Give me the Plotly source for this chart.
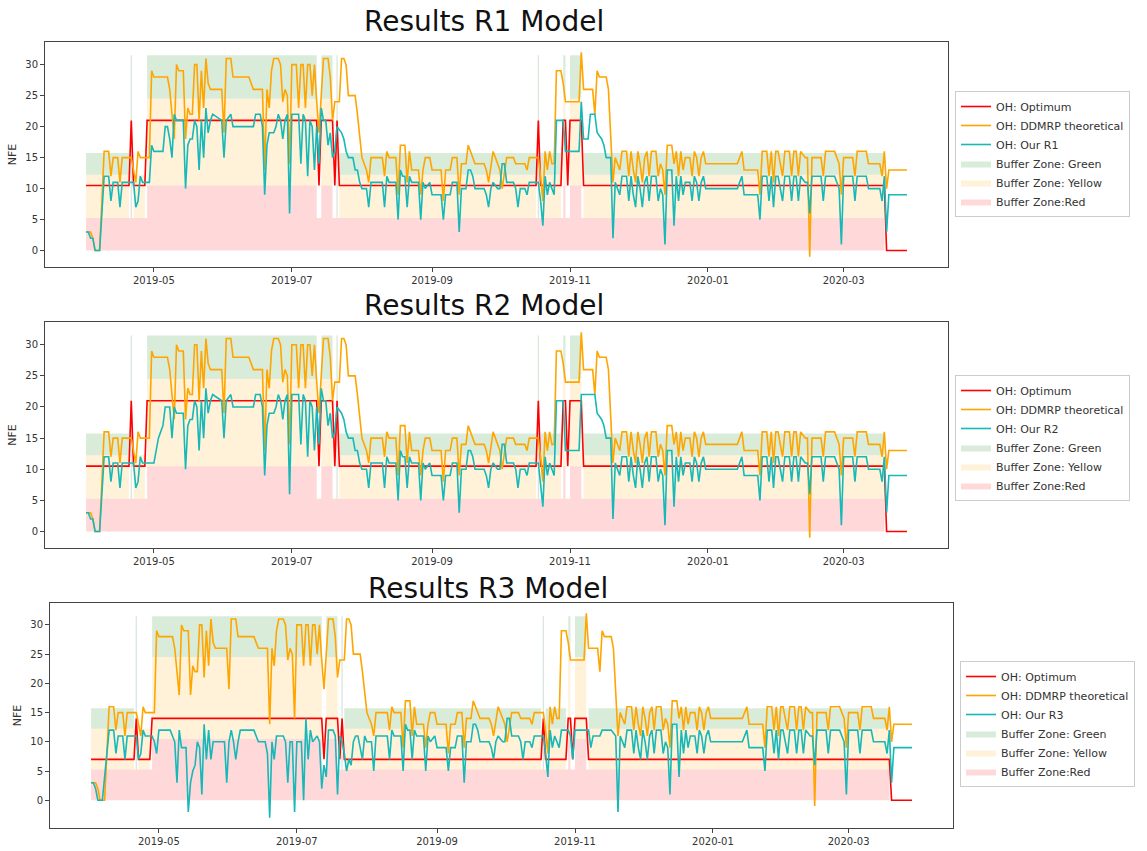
import pandas as pd
import plotly.graph_objects as go

START = pd.Timestamp("2019-04-01")

# ---- buffer-zone regime runs (inclusive day offsets from START) ----
LOW_RUNS = [(0, 19), (112, 199), (201, 210), (220, 353)]
LOW_RUNS_NO_GREEN = [(21, 26)]
HIGH_RUNS = [(27, 102), (104, 109), (211, 212), (214, 219)]
HIGH_SINGLE_DAYS = [20, 111, 200]
RED_BASE_RUN = (0, 353)
# zone limits: (red top, yellow top, green top)
LOW_LEVELS = (5.25, 12.25, 15.75)
HIGH_LEVELS = (10.5, 24.5, 31.5)

# ---- optimum on-hand (day offset, value) ----
OPT_DAYS = [0, 19, 20, 21, 26, 27, 102, 103, 104, 109, 110, 111, 112, 199, 200, 201,
            210, 211, 212, 213, 214, 219, 220, 353, 354, 363]
OPT_R12 = [10.5, 10.5, 21, 10.5, 10.5, 21, 21, 10.5, 21, 21, 10.5, 21, 10.5, 10.5, 21, 10.5,
           10.5, 21, 21, 10.5, 21, 21, 10.5, 10.5, 0, 0]
OPT_R3 = [7, 7, 14, 7, 7, 14, 14, 7, 14, 14, 7, 14, 7, 7, 14, 7,
          7, 14, 14, 7, 14, 14, 7, 7, 0, 0]

# ---- DDMRP theoretical on-hand (day offset, value) ----
DDMRP = [(0, 3), (2, 3), (3, 2), (4, 0), (6, 0), (8, 16), (10, 16), (11, 12), (12, 15), (14, 15),
         (15, 11), (16, 15), (20, 15), (21, 13), (22, 11), (23, 16), (24, 15), (28, 15), (29, 29),
         (30, 28), (36, 28), (37, 26), (38, 22), (39, 18), (40, 30), (41, 29), (43, 29), (44, 18),
         (45, 23), (46, 22), (47, 22), (48, 30), (49, 30), (50, 21), (51, 29), (52, 23), (53, 31),
         (54, 27), (55, 26), (60, 26), (61, 19), (62, 31), (64, 31), (65, 28), (72, 28), (73, 27),
         (74, 26), (78, 26), (79, 13), (80, 26), (81, 23), (82, 29), (83, 31), (85, 31), (86, 30),
         (87, 24), (88, 26), (89, 25), (90, 14), (91, 30), (93, 30), (94, 23), (95, 30), (96, 30),
         (97, 23), (98, 30), (99, 30), (100, 25), (101, 30), (102, 24), (103, 19), (104, 25),
         (105, 31), (107, 31), (108, 28), (109, 21), (110, 24), (112, 24), (113, 31), (114, 31),
         (115, 30), (116, 25), (119, 25), (120, 22), (121, 18), (122, 15), (123, 14), (124, 13),
         (125, 11), (126, 15), (131, 15), (132, 12), (133, 16), (134, 15), (137, 15), (138, 9),
         (139, 17), (141, 17), (142, 11), (143, 16), (144, 13), (147, 13), (148, 9), (149, 13),
         (150, 15), (152, 15), (153, 13), (157, 13), (158, 8), (159, 13), (161, 13), (162, 15),
         (164, 15), (165, 9), (166, 14), (168, 14), (169, 17), (170, 16), (171, 15), (172, 14),
         (176, 14), (177, 13), (178, 11), (179, 14), (180, 16), (181, 15), (182, 14), (183, 13),
         (184, 10), (185, 13), (186, 15), (189, 15), (190, 14), (194, 14), (195, 13), (196, 15),
         (200, 15), (201, 12), (202, 8), (203, 16), (204, 13), (205, 16), (206, 14), (207, 14),
         (208, 29), (210, 29), (211, 27), (212, 24), (218, 24), (219, 32), (220, 26), (224, 26),
         (225, 22), (226, 29), (227, 28), (230, 28), (231, 26), (233, 11), (234, 15), (235, 14),
         (236, 13), (237, 16), (239, 16), (240, 12), (241, 16), (242, 13), (243, 11), (244, 16),
         (245, 14), (246, 11), (247, 15), (248, 16), (249, 12), (250, 16), (252, 16), (253, 12),
         (254, 14), (255, 13), (256, 9), (257, 17), (259, 17), (260, 14), (261, 16), (262, 12),
         (263, 16), (264, 13), (265, 15), (267, 15), (268, 12), (269, 16), (270, 15), (271, 12),
         (272, 15), (273, 16), (274, 14), (288, 14), (290, 16), (291, 13), (297, 13), (298, 9),
         (299, 16), (301, 16), (302, 12), (303, 16), (304, 11), (305, 16), (306, 16), (307, 14),
         (308, 12), (309, 16), (311, 16), (312, 12), (313, 16), (314, 16), (315, 12), (316, 16),
         (318, 15), (319, 15), (320, -1), (321, 15), (325, 15), (326, 12), (327, 16), (331, 16),
         (333, 14), (334, 9), (335, 15), (339, 15), (340, 12), (341, 16), (345, 16), (346, 14),
         (351, 14), (352, 12), (353, 16), (354, 10), (355, 13), (363, 13)]

# ---- model R1 on-hand (day offset, value) ----
OUR_R1 = [(0, 3), (1, 3), (2, 2), (3, 2), (4, 0), (6, 0), (8, 12), (10, 12), (11, 8), (12, 11),
          (14, 11), (15, 7), (16, 11), (21, 11), (22, 7), (23, 8), (24, 12), (25, 11), (28, 11),
          (29, 17), (30, 16), (34, 16), (35, 20), (36, 20), (37, 18), (38, 15), (39, 22), (40, 21),
          (43, 21), (44, 10), (45, 17), (46, 18), (47, 18), (48, 21), (49, 20), (50, 13), (51, 21),
          (52, 15), (53, 23), (54, 19), (55, 21), (56, 22), (60, 21), (61, 15), (62, 21), (64, 22),
          (65, 20), (74, 20), (75, 22), (77, 22), (78, 20), (79, 9), (80, 17), (81, 19), (83, 19),
          (84, 20), (85, 22), (86, 21), (87, 18), (88, 21), (89, 22), (90, 6), (91, 22), (94, 22),
          (95, 14), (96, 22), (97, 21), (98, 12), (99, 21), (100, 20), (101, 13), (102, 20),
          (103, 14), (104, 23), (105, 21), (106, 21), (107, 17), (108, 19), (109, 15), (110, 16),
          (111, 20), (113, 19), (114, 18), (115, 16), (116, 15), (118, 15), (119, 13), (120, 13),
          (121, 11), (122, 10), (124, 10), (125, 7), (126, 11), (131, 11), (132, 7), (133, 12),
          (134, 11), (137, 11), (138, 5), (139, 13), (140, 12), (141, 12), (142, 7), (143, 12),
          (144, 11), (147, 11), (148, 5), (149, 11), (150, 10), (152, 11), (153, 9), (157, 9),
          (158, 5), (159, 9), (161, 9), (162, 11), (164, 11), (165, 3), (166, 10), (168, 10),
          (169, 13), (170, 13), (171, 12), (172, 10), (176, 10), (177, 9), (178, 7), (179, 10),
          (180, 11), (182, 10), (183, 10), (184, 14), (185, 14), (186, 11), (189, 11), (190, 10),
          (191, 7), (192, 10), (194, 10), (195, 9), (196, 11), (200, 11), (201, 8), (202, 4),
          (203, 12), (204, 9), (205, 11), (206, 10), (207, 9), (208, 21), (211, 21), (212, 16),
          (218, 16), (219, 24), (220, 18), (222, 18), (223, 22), (225, 22), (226, 19), (228, 18),
          (229, 17), (230, 15), (232, 15), (233, 2), (234, 11), (235, 10), (236, 9), (237, 12),
          (239, 12), (240, 8), (241, 12), (242, 9), (243, 7), (244, 12), (245, 10), (246, 7),
          (247, 11), (248, 12), (249, 8), (250, 12), (252, 12), (253, 8), (254, 10), (255, 9),
          (256, 1), (257, 13), (259, 13), (260, 4), (261, 12), (262, 8), (263, 12), (264, 9),
          (265, 11), (267, 11), (268, 8), (269, 12), (270, 11), (271, 8), (272, 11), (273, 12),
          (274, 10), (288, 10), (290, 12), (291, 9), (297, 9), (298, 5), (299, 12), (301, 12),
          (302, 8), (303, 12), (304, 7), (305, 12), (306, 12), (307, 10), (308, 8), (309, 12),
          (311, 12), (312, 8), (313, 12), (314, 12), (315, 8), (316, 12), (318, 11), (319, 11),
          (320, 6), (321, 12), (325, 12), (326, 8), (327, 12), (331, 12), (333, 10), (334, 1),
          (335, 12), (339, 12), (340, 8), (341, 12), (345, 12), (346, 10), (351, 10), (352, 8),
          (353, 12), (354, 3), (355, 9), (363, 9)]

# ---- model R2: differs from R1 in the two high periods ----
OUR_R2_EARLY = [(0, 3), (1, 3), (2, 2), (3, 2), (4, 0), (6, 0), (8, 12), (10, 12), (11, 8), (12, 11),
                (14, 11), (15, 7), (16, 11), (21, 11), (22, 7), (23, 8), (24, 12), (25, 11), (30, 11),
                (32, 15), (33, 16), (34, 17), (35, 20), (37, 20), (38, 15), (39, 20), (40, 19),
                (43, 19)]
OUR_R2_NOV = [(208, 21), (211, 21), (212, 13), (218, 13), (219, 22), (225, 22), (226, 19),
              (228, 18), (229, 17), (230, 15), (232, 15)]
OUR_R2 = (OUR_R2_EARLY + [p for p in OUR_R1 if 44 <= p[0] <= 207] + OUR_R2_NOV
          + [p for p in OUR_R1 if p[0] >= 233])

# ---- model R3 ----
OUR_R3_EARLY = [(0, 3), (1, 3), (2, 2), (3, 0), (5, 0), (8, 12), (10, 12), (11, 8), (12, 11), (14, 11),
                (15, 7), (16, 11), (20, 11), (21, 7), (22, 8), (23, 12), (24, 11), (27, 11), (28, 10),
                (29, 8), (30, 12), (35, 12), (36, 11), (37, 10), (38, 3), (39, 12), (40, 9), (42, 9),
                (43, -2), (44, 3), (45, 5), (46, 6), (47, 10), (48, 9), (49, 1), (50, 13), (51, 7),
                (52, 12), (53, 7), (54, 10), (59, 10), (60, 3), (61, 10), (62, 12), (63, 10), (64, 7),
                (65, 10), (66, 12), (72, 12), (73, 11), (74, 10), (77, 10), (78, 8), (79, -3), (80, 10),
                (81, 7), (82, 11), (85, 11), (86, 10), (87, 3), (88, 10), (89, 10), (90, -2), (91, 10),
                (93, 10), (94, 0), (95, 14), (96, 7), (97, 12), (98, 10), (100, 11), (101, 10),
                (102, 2), (103, 6), (104, 4), (105, 12), (107, 12), (108, 11), (109, 1), (110, 11),
                (111, 10), (112, 8), (113, 5), (114, 7), (115, 6), (116, 10), (117, 11), (118, 11),
                (119, 9), (120, 7), (121, 11), (122, 10), (124, 10), (125, 5), (126, 11)]
OUR_R3_NOV = [(208, 12), (211, 12), (212, 11), (213, 7), (214, 12), (220, 12), (221, 9), (222, 11),
              (225, 11), (226, 12), (230, 12), (232, 11), (233, -2)]
OUR_R3 = (OUR_R3_EARLY + [p for p in OUR_R1 if 131 <= p[0] <= 207] + OUR_R3_NOV
          + [p for p in OUR_R1 if p[0] >= 234])

PANELS = [
    dict(title="Results R1 Model", label="OH: Our R1", opt=OPT_R12, our=OUR_R1,
         yrange=[-2.65, 33.65], ydom=[1 - 267 / 851, 1 - 42 / 851], xdom=[0, 903 / 908],
         title_xy=(484, 22), legend_xy=(955, 91)),
    dict(title="Results R2 Model", label="OH: Our R2", opt=OPT_R12, our=OUR_R2,
         yrange=[-2.65, 33.65], ydom=[1 - 548 / 851, 1 - 322 / 851], xdom=[0, 903 / 908],
         title_xy=(484, 305), legend_xy=(955, 375)),
    dict(title="Results R3 Model", label="OH: Our R3", opt=OPT_R3, our=OUR_R3,
         yrange=[-4.75, 33.75], ydom=[1 - 828 / 851, 1 - 603 / 851], xdom=[5 / 908, 1],
         title_xy=(488, 588), legend_xy=(960, 661)),
]

ML, MR = 45, 194
PAPER_W = 1147 - ML - MR


def day(d):
    return START + pd.Timedelta(days=d)


def rect(xs, ys, a, b, lo, hi):
    xs += [day(a), day(b), day(b), day(a), day(a), None]
    ys += [lo, lo, hi, hi, lo, None]


def zone_shape(kind):
    xs, ys = [], []
    if kind == "green":
        for a, b in LOW_RUNS:
            rect(xs, ys, a, b, LOW_LEVELS[1], LOW_LEVELS[2])
        for a, b in HIGH_RUNS:
            rect(xs, ys, a, b, HIGH_LEVELS[1], HIGH_LEVELS[2])
    elif kind == "yellow":
        for a, b in LOW_RUNS + LOW_RUNS_NO_GREEN:
            rect(xs, ys, a, b, LOW_LEVELS[0], LOW_LEVELS[1])
        for a, b in HIGH_RUNS:
            rect(xs, ys, a, b, HIGH_LEVELS[0], HIGH_LEVELS[1])
    else:
        rect(xs, ys, RED_BASE_RUN[0], RED_BASE_RUN[1], 0, LOW_LEVELS[0])
        for a, b in HIGH_RUNS:
            rect(xs, ys, a, b, LOW_LEVELS[0], HIGH_LEVELS[0])
    return xs, ys


fig = go.Figure()
layout = dict(
    width=1147, height=851, paper_bgcolor="white", plot_bgcolor="white",
    margin=dict(l=ML, r=MR, t=0, b=0), showlegend=True,
    font=dict(family="DejaVu Sans", color="#222"),
    annotations=[],
)

for i, p in enumerate(PANELS):
    n = "" if i == 0 else str(i + 1)
    xa, ya = "x" + n, "y" + n
    leg = "legend" + n

    # single-day high-buffer slivers
    sx, sy = [], []
    for d in HIGH_SINGLE_DAYS:
        sx += [day(d), day(d), None]
        sy += [LOW_LEVELS[0], HIGH_LEVELS[2], None]
    fig.add_trace(go.Scatter(x=sx, y=sy, mode="lines", line=dict(color="rgba(190,210,190,0.6)", width=1.2),
                             showlegend=False, xaxis=xa, yaxis=ya, hoverinfo="skip"))

    zones = [
        ("Buffer Zone: Green", "rgba(0,128,0,0.15)", "green", 4),
        ("Buffer Zone: Yellow", "rgba(255,165,0,0.15)", "yellow", 5),
        ("Buffer Zone:Red", "rgba(255,0,0,0.15)", "red", 6),
    ]
    for name, col, kind, rank in zones:
        zx, zy = zone_shape(kind)
        fig.add_trace(go.Scatter(x=zx, y=zy, mode="lines", fill="toself", fillcolor=col,
                                 line=dict(width=0, color=col), name=name, xaxis=xa, yaxis=ya,
                                 legend=leg, legendrank=rank, hoverinfo="skip"))
    series = [
        ("OH: Optimum", "#ff0000", list(zip(OPT_DAYS, p["opt"])), 1),
        ("OH: DDMRP theoretical", "#ffa500", DDMRP, 2),
        (p["label"], "#17b8b8", p["our"], 3),
    ]
    for name, col, pts, rank in series:
        fig.add_trace(go.Scatter(x=[day(d) for d, _ in pts], y=[v for _, v in pts], mode="lines",
                                 line=dict(color=col, width=1.6), name=name, xaxis=xa, yaxis=ya,
                                 legend=leg, legendrank=rank))

    axis_common = dict(showline=True, mirror=True, linecolor="#444", linewidth=1,
                       ticks="outside", ticklen=4, tickcolor="#444", showgrid=False,
                       zeroline=False, tickfont=dict(size=10, color="#333"))
    layout["xaxis" + n] = dict(axis_common, domain=p["xdom"], anchor=ya,
                               range=[day(-18.15), day(381.15)], tickformat="%Y-%m",
                               tickvals=[pd.Timestamp(s) for s in
                                         ["2019-05-01", "2019-07-01", "2019-09-01",
                                          "2019-11-01", "2020-01-01", "2020-03-01"]])
    layout["yaxis" + n] = dict(axis_common, domain=p["ydom"], anchor=xa, range=p["yrange"],
                               tickvals=[0, 5, 10, 15, 20, 25, 30],
                               title=dict(text="NFE", font=dict(size=11, color="#333"),
                                          standoff=6))
    lx, ly = p["legend_xy"]
    layout[leg] = dict(x=(lx - ML) / PAPER_W, y=1 - ly / 851, xanchor="left", yanchor="top",
                       bordercolor="#cccccc", borderwidth=1, bgcolor="white",
                       font=dict(size=11, color="#333"), tracegroupgap=0,
                       traceorder="normal")
    tx, ty = p["title_xy"]
    layout["annotations"].append(dict(text=p["title"], xref="paper", yref="paper",
                                      x=(tx - ML) / PAPER_W, y=1 - ty / 851,
                                      xanchor="center", yanchor="middle", showarrow=False,
                                      font=dict(size=28, color="#111")))

fig.update_layout(**layout)
fig.write_html("out.html")
